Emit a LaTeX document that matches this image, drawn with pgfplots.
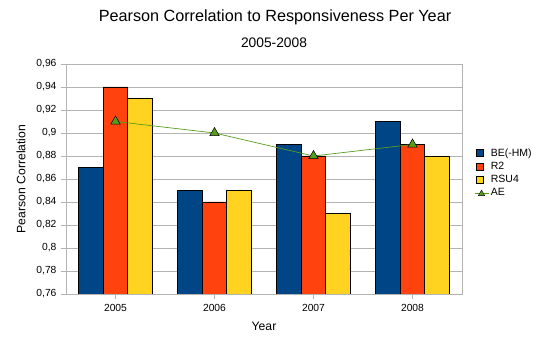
\documentclass[border=0pt]{standalone}
\usepackage{pgfplots}
\pgfplotsset{compat=1.18}
\usepackage{fontspec}
\setmainfont{Liberation Sans}
\definecolor{cBE}{HTML}{004586}
\definecolor{cR}{HTML}{FF420E}
\definecolor{cRSU}{HTML}{FFD320}
\definecolor{cAE}{HTML}{579D1C}
\definecolor{gridc}{HTML}{B3B3B3}
\begin{document}
\begin{tikzpicture}[x=1pt,y=1pt]
\useasboundingbox (-66,-58) rectangle (482,294);
\begin{axis}[
  at={(0,0)}, anchor=south west,
  scale only axis, width=396pt, height=230pt,
  xmin=-0.5, xmax=3.5, ymin=0.76, ymax=0.96,
  xtick={0,1,2,3}, xticklabels={2005,2006,2007,2008},
  ytick={0.76,0.78,...,0.961},
  ymajorgrids, grid style={gridc, line width=0.6pt},
  axis line style={gridc, line width=0.6pt},
  tick style={gridc, line width=0.6pt},
  tick align=outside, major tick length=5pt,
  xtick pos=bottom, ytick pos=left,
  ybar=0pt, bar width=24.5pt,
  /pgf/number format/.cd, use comma, fixed, precision=2, assume math mode=true,
  /pgfplots/.cd,
  ticklabel style={font=\fontsize{10.3}{12}\selectfont},
  yticklabel style={xshift=-1pt},
  xticklabel style={yshift=-2pt},
  xlabel={Year}, ylabel={Pearson Correlation},
  label style={font=\fontsize{12.2}{14}\selectfont},
  xlabel style={yshift=-3pt},
  ylabel style={yshift=4pt},
  legend style={draw=none, fill=none, at={(1,0.5)}, anchor=west, xshift=9pt, yshift=6pt,
    font=\fontsize{10.5}{12}\selectfont, row sep=0.5pt,
    legend cell align=left},
  legend image code/.code={\draw[#1, draw=black, line width=0.6pt] (0pt,-3.5pt) rectangle (7pt,3.5pt);},
]
\addplot[fill=cBE, draw=black, line width=0.7pt] coordinates {(0,0.87) (1,0.85) (2,0.89) (3,0.91)};
\addlegendentry{BE(-HM)}
\addplot[fill=cR, draw=black, line width=0.7pt] coordinates {(0,0.94) (1,0.84) (2,0.88) (3,0.89)};
\addlegendentry{R2}
\addplot[fill=cRSU, draw=black, line width=0.7pt] coordinates {(0,0.93) (1,0.85) (2,0.83) (3,0.88)};
\addlegendentry{RSU4}
\addplot[sharp plot, cAE, line width=0.7pt, mark=triangle*, mark size=5.5pt,
  mark options={fill=cAE, draw=black, line width=0.5pt},
  legend image code/.code={\draw[cAE, line width=0.7pt] (-2pt,0pt) -- (12pt,0pt);
    \draw[black, fill=cAE, line width=0.4pt] (5pt,0pt) ++(-3.2pt,-2.5pt) -- ++(6.4pt,0) -- ++(-3.2pt,5.5pt) -- cycle;}]
  coordinates {(0,0.91) (1,0.90) (2,0.88) (3,0.89)};
\addlegendentry{AE}
\end{axis}
\node[font=\fontsize{16.2}{19}\selectfont] at (209,277) {Pearson Correlation to Responsiveness Per Year};
\node[font=\fontsize{13.8}{16}\selectfont] at (208,251) {2005-2008};
\end{tikzpicture}
\end{document}
